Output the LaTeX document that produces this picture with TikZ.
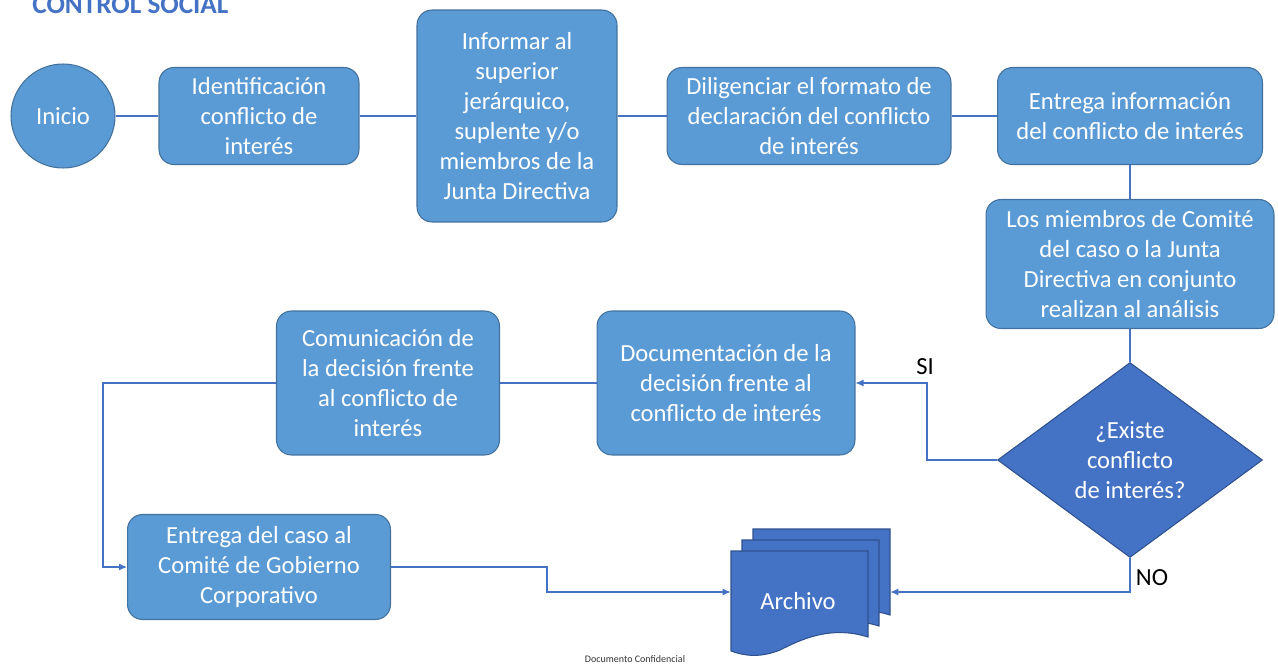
\documentclass[tikz,border=0pt]{standalone}
\usepackage{fontspec}
\setmainfont{Carlito}
\usepackage{tikz}
\usetikzlibrary{positioning, shapes.geometric, arrows.meta}

\definecolor{boxfill}{HTML}{5B9BD5}
\definecolor{boxline}{HTML}{41719C}
\definecolor{darkfill}{HTML}{4472C4}
\definecolor{darkline}{HTML}{2F528F}

\tikzset{
  stepbox/.style = {rectangle, rounded corners=0.3cm, draw=boxline, fill=boxfill, line width=0.6pt,
    text=white, align=center, font=\fontsize{14}{17}\selectfont, inner sep=0pt},
  flow/.style = {draw=darkfill, line width=0.6pt},
  flowarrow/.style = {flow, -{Latex[length=1.6mm, width=1.4mm]}},
  answer/.style = {font=\fontsize{14}{17}\selectfont, text=black}
}

\begin{document}
\begin{tikzpicture}[x=0.02cm, y=-0.02cm]
        \useasboundingbox (0,0) rectangle (1278,663);

        \node[anchor=base west, text=darkfill, font=\fontsize{15.5}{18}\selectfont\bfseries, inner sep=0pt] (titulo) at (32,13) {CONTROL SOCIAL};

        \node[circle, draw=boxline, fill=boxfill, line width=0.6pt, minimum size=2.08cm, text=white, font=\fontsize{14}{17}\selectfont] (inicio) at (63,116) {Inicio};
        \node[stepbox, minimum width=4cm, minimum height=1.94cm] (ident) at (259,116) {Identificación\\conflicto de\\interés};
        \node[stepbox, minimum width=4cm, minimum height=4.24cm] (informar) at (517,116) {Informar al\\superior\\jerárquico,\\suplente y/o\\miembros de la\\Junta Directiva};
        \node[stepbox, minimum width=5.68cm, minimum height=1.94cm] (dilig) at (809,116) {Diligenciar el formato de\\declaración del conflicto\\de interés};
        \node[stepbox, minimum width=5.3cm, minimum height=1.94cm] (entrega) at (1130,116) {Entrega información\\del conflicto de interés};
        \node[stepbox, minimum width=5.76cm, minimum height=2.58cm] (miembros) at (1130,264) {Los miembros de Comité\\del caso o la Junta\\Directiva en conjunto\\realizan al análisis};
        \node[diamond, draw=darkline, fill=darkfill, line width=0.6pt, minimum width=5.3cm, minimum height=3.9cm, inner sep=0pt,
          text=white, align=center, font=\fontsize{14}{17}\selectfont] (decision) at (1130,460) {¿Existe\\conflicto\\de interés?};
        \node[stepbox, minimum width=5.16cm, minimum height=2.88cm] (docum) at (726,383) {Documentación de la\\decisión frente al\\conflicto de interés};
        \node[stepbox, minimum width=4.46cm, minimum height=2.88cm] (comun) at (388,383) {Comunicación de\\la decisión frente\\al conflicto de\\interés};
        \node[stepbox, minimum width=5.26cm, minimum height=2.1cm] (entcaso) at (259,567) {Entrega del caso al\\Comité de Gobierno\\Corporativo};

        \foreach \d in {22,11,0}
          \draw[draw=darkline, fill=darkfill, line width=0.6pt] (731+\d,651-\d) -- (731+\d,551-\d) -- (868+\d,551-\d) -- (868+\d,637-\d)
            .. controls (830+\d,625-\d) and (800+\d,640-\d) .. (780+\d,650-\d) .. controls (760+\d,658-\d) and (745+\d,656-\d) .. (731+\d,651-\d);
        \node[minimum width=3.18cm, minimum height=1cm, inner sep=0pt] (archivo) at (810.5,592) {};
        \node[text=white, font=\fontsize{14}{17}\selectfont] (archtxt) at (798,601) {Archivo};

        \draw[flow] (inicio) -- (ident);
        \draw[flow] (ident) -- (informar);
        \draw[flow] (informar) -- (dilig);
        \draw[flow] (dilig) -- (entrega);
        \draw[flow] (entrega) -- (miembros);
        \draw[flow] (miembros) -- (decision);
        \draw[flowarrow] (decision.west) -- ++(-70,0) |- (docum.east);
        \draw[flow] (docum) -- (comun);
        \draw[flowarrow] (comun.west) -- ++(-173,0) |- (entcaso.west);
        \draw[flowarrow] (entcaso.east) -- ++(156,0) |- (archivo.west);
        \draw[flowarrow] (decision.south) |- (archivo.east);

        \node[answer] (si) at (925,367) {SI};
        \node[answer] (no) at (1152,578) {NO};
        \node[font=\fontsize{5.7}{7}\selectfont, text=black!80] (pie) at (635,659) {Documento Confidencial};
      \end{tikzpicture}
\end{document}
